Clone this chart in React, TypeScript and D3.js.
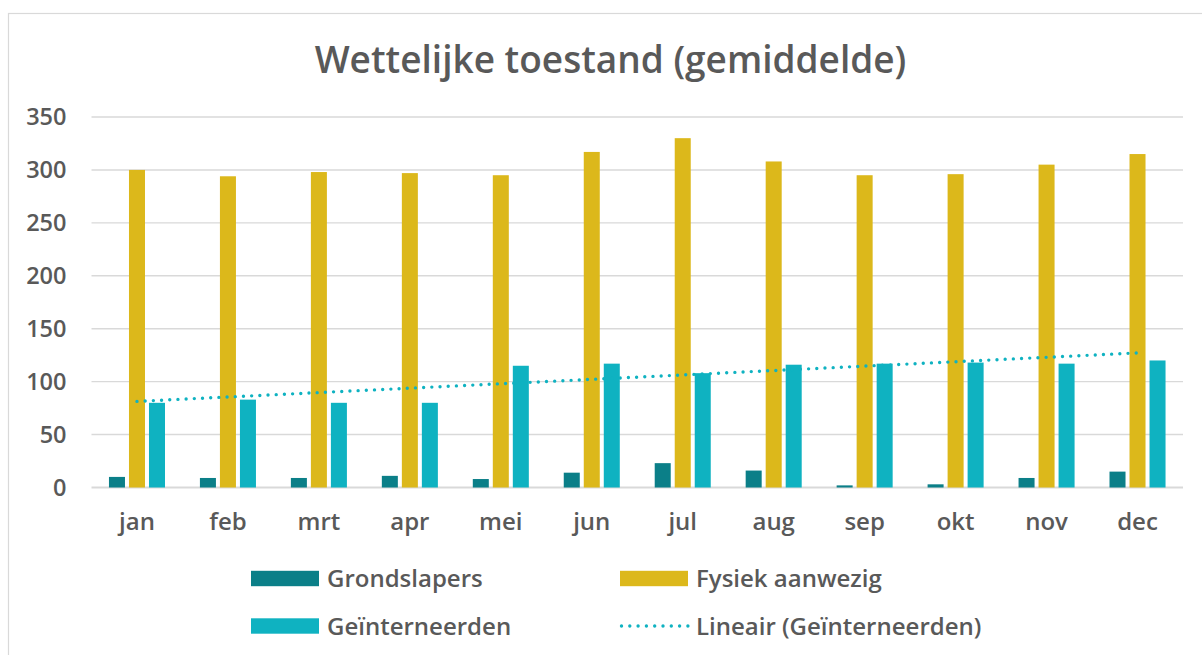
import React, { useRef, useEffect } from 'react';
import * as d3 from 'd3';

const months = ['jan', 'feb', 'mrt', 'apr', 'mei', 'jun', 'jul', 'aug', 'sep', 'okt', 'nov', 'dec'];
const grondslapers = [10, 9, 9, 11, 8, 14, 23, 16, 2, 3, 9, 15];
const fysiekAanwezig = [300, 294, 298, 297, 295, 317, 330, 308, 295, 296, 305, 315];
const geinterneerden = [80, 83, 80, 80, 115, 117, 108, 116, 117, 118, 117, 120];
const yTicks = [0, 50, 100, 150, 200, 250, 300, 350];

const seriesNames = ['Grondslapers', 'Fysiek aanwezig', 'Geïnterneerden'];
const colors = ['#0b7f88', '#dcb81b', '#0fb2c1'];
const textColor = '#595959';
const font = "'Open Sans', 'Noto Sans', sans-serif";

const App = () => {
    const svgRef = useRef<SVGSVGElement | null>(null);
    const width = 1202;
    const height = 655;

    useEffect(() => {
        if (!svgRef.current) return;
        const svg = d3.select(svgRef.current);
        svg.selectAll('*').remove();

        // chart frame
        svg.append('rect')
            .attr('x', 8.5).attr('y', 13.5)
            .attr('width', 1200).attr('height', 660)
            .attr('fill', 'white')
            .attr('stroke', '#d9d9d9')
            .attr('stroke-width', 1.2);

        svg.append('text')
            .attr('x', 610.5).attr('y', 73)
            .attr('text-anchor', 'middle')
            .attr('font-family', font)
            .attr('font-weight', 600)
            .attr('font-size', 37)
            .attr('fill', textColor)
            .text('Wettelijke toestand (gemiddelde)');

        const x = d3.scaleBand<string>().domain(months).range([91.5, 1183]);
        const y = d3.scaleLinear().domain([0, 350]).range([487.5, 117]);

        // gridlines + y labels
        const grid = svg.append('g');
        grid.selectAll('line')
            .data(yTicks)
            .enter()
            .append('line')
            .attr('x1', 91.5).attr('x2', 1183)
            .attr('y1', d => y(d)).attr('y2', d => y(d))
            .attr('stroke', '#d9d9d9')
            .attr('stroke-width', d => (d === 0 ? 1.8 : 1.4));

        grid.selectAll('text')
            .data(yTicks)
            .enter()
            .append('text')
            .attr('x', 66.5)
            .attr('y', d => y(d))
            .attr('dy', '0.36em')
            .attr('text-anchor', 'end')
            .attr('font-family', font)
            .attr('font-weight', 600)
            .attr('font-size', 23.5)
            .attr('fill', textColor)
            .text(d => d);

        // month labels
        svg.append('g').selectAll('text')
            .data(months)
            .enter()
            .append('text')
            .attr('x', d => (x(d) as number) + x.bandwidth() / 2)
            .attr('y', 530)
            .attr('text-anchor', 'middle')
            .attr('font-family', font)
            .attr('font-weight', 600)
            .attr('font-size', 24)
            .attr('fill', textColor)
            .text(d => d);

        // bars
        const barW = x.bandwidth() * 0.176;
        const step = barW * 1.25;
        const allSeries = [grondslapers, fysiekAanwezig, geinterneerden];
        allSeries.forEach((vals, si) => {
            svg.append('g').selectAll('rect')
                .data(vals)
                .enter()
                .append('rect')
                .attr('x', (d, i) => (x(months[i]) as number) + x.bandwidth() / 2 + (si - 1) * step - barW / 2)
                .attr('y', d => y(d))
                .attr('width', barW)
                .attr('height', d => y(0) - y(d))
                .attr('fill', colors[si]);
        });

        // linear trendline for Geïnterneerden (least squares)
        const n = geinterneerden.length;
        const xs = d3.range(1, n + 1);
        const mx = d3.mean(xs) as number;
        const my = d3.mean(geinterneerden) as number;
        const slope = d3.sum(xs, (v, i) => (v - mx) * (geinterneerden[i] - my)) / d3.sum(xs, v => (v - mx) ** 2);
        const icpt = my - slope * mx;
        const trend = [1, n].map(v => ({ m: months[v - 1], v: icpt + slope * v }));
        const line = d3.line<{ m: string; v: number }>()
            .x(d => (x(d.m) as number) + x.bandwidth() / 2)
            .y(d => y(d.v));
        svg.append('path')
            .attr('d', line(trend))
            .attr('fill', 'none')
            .attr('stroke', colors[2])
            .attr('stroke-width', 3.4)
            .attr('stroke-linecap', 'round')
            .attr('stroke-dasharray', '0 8.2');

        // legend
        const legend = [
            { name: seriesNames[0], color: colors[0], x: 251, y: 578.5, type: 'rect' },
            { name: seriesNames[1], color: colors[1], x: 620, y: 578.5, type: 'rect' },
            { name: seriesNames[2], color: colors[2], x: 251, y: 626, type: 'rect' },
            { name: 'Lineair (Geïnterneerden)', color: colors[2], x: 620, y: 626, type: 'line' },
        ];
        const lg = svg.append('g').selectAll('g')
            .data(legend)
            .enter()
            .append('g')
            .attr('transform', d => `translate(${d.x},${d.y})`);

        lg.filter(d => d.type === 'rect').append('rect')
            .attr('x', 0).attr('y', -7.7)
            .attr('width', 68).attr('height', 15.4)
            .attr('fill', d => d.color);

        lg.filter(d => d.type === 'line').append('line')
            .attr('x1', 1.5).attr('x2', 68).attr('y1', 0).attr('y2', 0)
            .attr('stroke', d => d.color)
            .attr('stroke-width', 3.4)
            .attr('stroke-linecap', 'round')
            .attr('stroke-dasharray', '0 8.3');

        lg.append('text')
            .attr('x', 76)
            .attr('y', 0)
            .attr('dy', '0.36em')
            .attr('font-family', font)
            .attr('font-weight', 600)
            .attr('font-size', 24)
            .attr('fill', textColor)
            .text(d => d.name);
    }, []);

    return (
        <svg
            ref={svgRef}
            width={width}
            height={height}
            style={{ position: 'absolute', left: 0, top: 0, display: 'block', background: 'white' }}
        ></svg>
    );
};

export default App;
